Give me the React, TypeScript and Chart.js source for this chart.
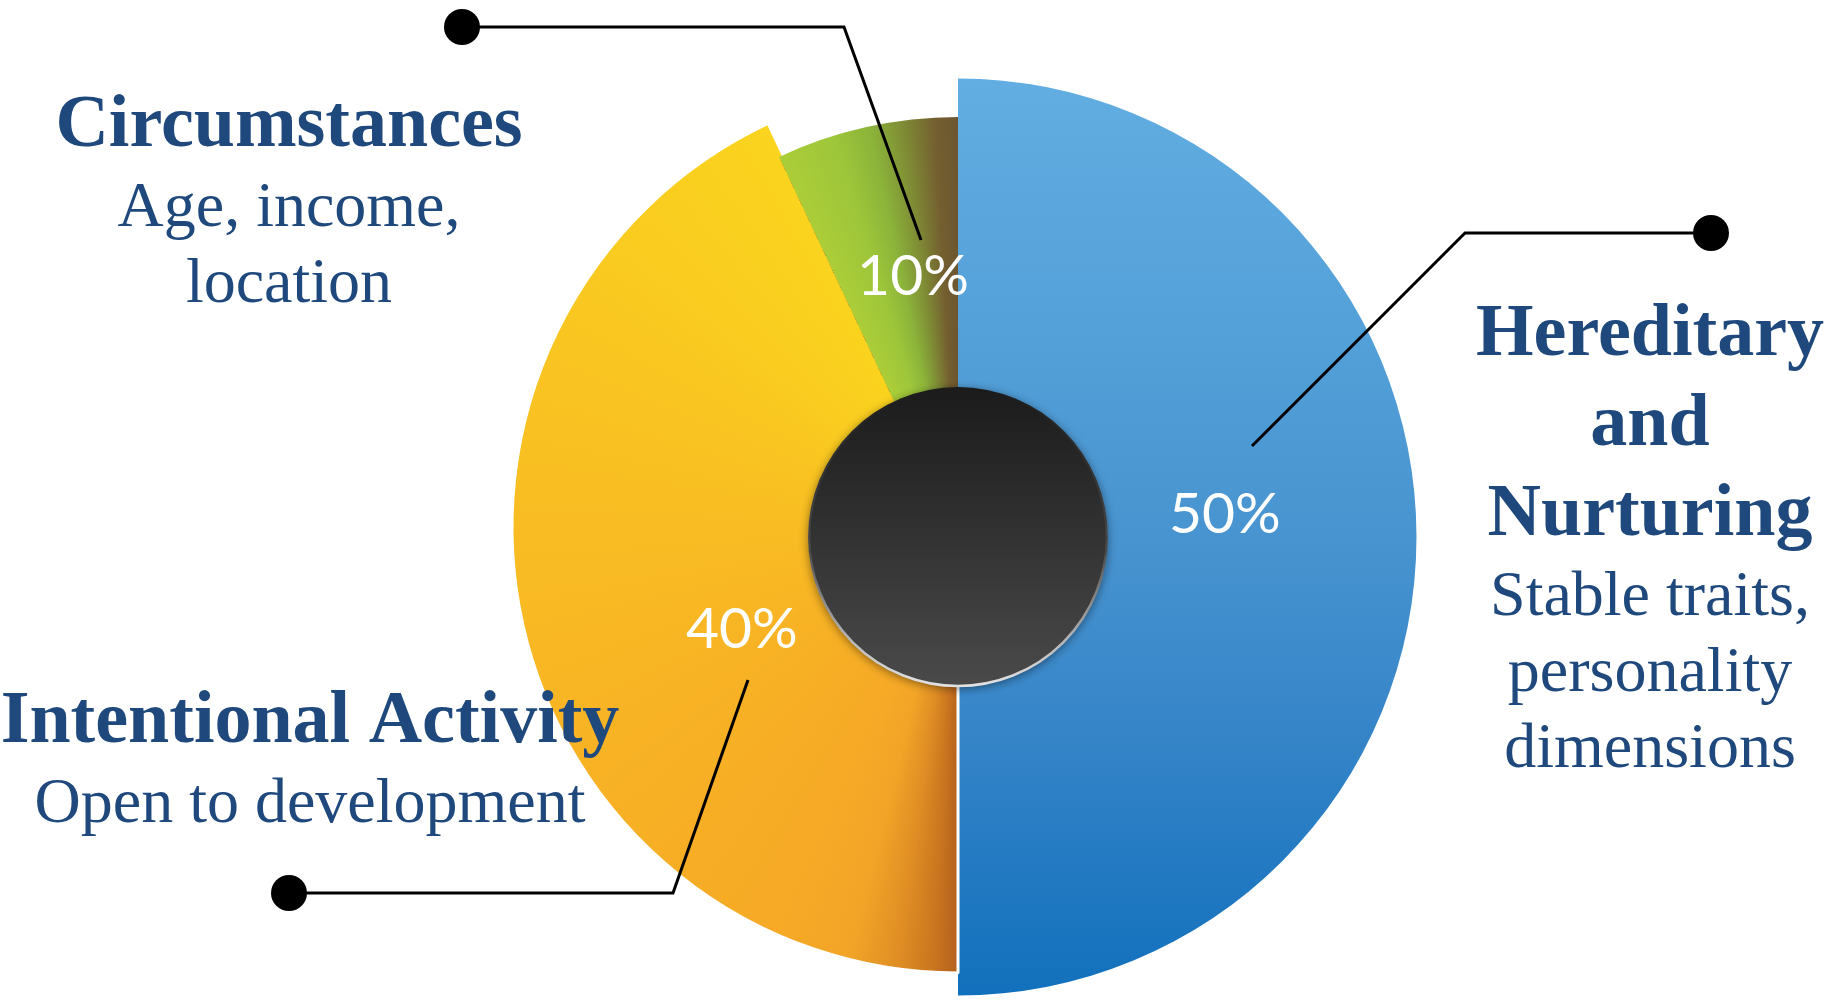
import React, { useEffect, useRef } from 'react';
import { Chart, registerables } from 'chart.js';

Chart.register(...registerables);

// ---------------- data ----------------
const categories = ['Hereditary and Nurturing', 'Intentional Activity', 'Circumstances'];
// slice sizes as drawn in the picture (angles 180° / ~155° / ~25°)
const sliceValues = [50, 43, 7];
// percentages printed on the slices
const percentLabels = ['50%', '40%', '10%'];
const titleLines = [['Hereditary', 'and', 'Nurturing'], ['Intentional Activity'], ['Circumstances']];
const subtitleLines = [['Stable traits,', 'personality', 'dimensions'], ['Open to development'], ['Age, income,', 'location']];

// ---------------- style ----------------
const TEXT_BLUE = '#1F497D';
const radiusFactors = [1, 446 / 458.5, 420 / 458.5];
const yShift = [0, -10, 0];
const labelFrac = [0.47, 0.436, 0.615];
const labelRadius = [268, 234, 267];
const blockAnchors = [
  { x: 1650, y: 355 },
  { x: 310, y: 742 },
  { x: 289, y: 146 },
];
const leaders = [
  [[1711, 233], [1465, 233], [1252, 446]],
  [[289, 893], [673, 893], [748, 680]],
  [[462, 27], [844, 27], [921, 240]],
];
const yellowStops: [number, string][] = [
  [0, '#B5611E'], [3, '#C8741F'], [8, '#E08E24'], [14, '#F1A427'], [22, '#F6A926'],
  [60, '#F8B324'], [100, '#F9C022'], [155, '#FAD41E'], [359, '#FAD41E'],
];
const greenStops: [number, string][] = [
  [0, '#ABCD38'], [8, '#9EC63A'], [13, '#8BB43A'], [18, '#7E8834'], [22, '#745F30'], [25.5, '#6B5530'], [359, '#6B5530'],
];
const baseColors = ['#4894D0', '#F8B324', '#8BB43A'];

function sliceFill(c: any) {
  if (c.type !== 'data') return baseColors[0];
  const i = c.dataIndex;
  const chart = c.chart;
  const area = chart.chartArea;
  if (!area) return baseColors[i];
  const g: CanvasRenderingContext2D = chart.ctx;
  const cx = (area.left + area.right) / 2;
  const cy = (area.top + area.bottom) / 2;
  const r = Math.min(area.width, area.height) / 2;
  if (i === 0) {
    const lg = g.createLinearGradient(0, cy - r, 0, cy + r);
    lg.addColorStop(0, '#62AEE2');
    lg.addColorStop(0.5, '#4894D0');
    lg.addColorStop(0.72, '#3584C8');
    lg.addColorStop(1, '#1170BC');
    return lg;
  }
  const total = sliceValues.reduce((a, b) => a + b, 0);
  let before = 0;
  for (let k = 0; k < i; k++) before += sliceValues[k];
  const start = -Math.PI / 2 + (2 * Math.PI * before) / total;
  const anyCtx = g as any;
  if (typeof anyCtx.createConicGradient !== 'function') return baseColors[i];
  const cg = anyCtx.createConicGradient(start, cx, cy + yShift[i]);
  const stops = i === 1 ? yellowStops : greenStops;
  stops.forEach(([deg, col]) => cg.addColorStop(Math.min(deg / 360, 1), col));
  return cg;
}

const decorPlugin = {
  id: 'decor',
  beforeDatasetsDraw(chart: any) {
    const meta = chart.getDatasetMeta(0);
    const ctrl: any = meta.controller;
    const area = chart.chartArea;
    const cy0 = (area.top + area.bottom) / 2;
    meta.data.forEach((arc: any, i: number) => {
      arc.outerRadius = ctrl.outerRadius * radiusFactors[i];
      arc.innerRadius = Math.max(ctrl.innerRadius - 30, 0);
      arc.y = cy0 + yShift[i];
    });
  },
  afterDatasetsDraw(chart: any) {
    const ctx: CanvasRenderingContext2D = chart.ctx;
    const meta = chart.getDatasetMeta(0);
    const ctrl: any = meta.controller;
    const base = meta.data[0];
    const cx = base.x;
    const area = chart.chartArea;
    const cy = (area.top + area.bottom) / 2;
    const rIn = ctrl.innerRadius;

    // center disc
    ctx.save();
    ctx.shadowColor = 'rgba(0,0,0,0.45)';
    ctx.shadowBlur = 10;
    ctx.shadowOffsetY = 2;
    const dg = ctx.createLinearGradient(0, cy - rIn, 0, cy + rIn);
    dg.addColorStop(0, '#1B1B1B');
    dg.addColorStop(1, '#4A4A4A');
    ctx.fillStyle = dg;
    ctx.beginPath();
    ctx.arc(cx, cy, rIn, 0, Math.PI * 2);
    ctx.fill();
    ctx.restore();
    ctx.save();
    const rg = ctx.createLinearGradient(0, cy - rIn, 0, cy + rIn);
    rg.addColorStop(0, 'rgba(255,255,255,0)');
    rg.addColorStop(0.55, 'rgba(255,255,255,0.1)');
    rg.addColorStop(1, 'rgba(235,235,235,0.95)');
    ctx.strokeStyle = rg;
    ctx.lineWidth = 2.5;
    ctx.beginPath();
    ctx.arc(cx, cy, rIn - 1, 0, Math.PI * 2);
    ctx.stroke();
    ctx.restore();

    // percent labels
    ctx.save();
    ctx.fillStyle = '#FFFFFF';
    ctx.font = '57px Lato, "Open Sans", sans-serif';
    ctx.textAlign = 'center';
    ctx.textBaseline = 'alphabetic';
    meta.data.forEach((arc: any, i: number) => {
      const a = arc.startAngle + labelFrac[i] * (arc.endAngle - arc.startAngle);
      const px = cx + Math.cos(a) * labelRadius[i];
      const py = cy + Math.sin(a) * labelRadius[i];
      ctx.fillText(percentLabels[i], px, py + 21);
    });
    ctx.restore();

    // leader lines
    ctx.save();
    ctx.strokeStyle = '#000000';
    ctx.fillStyle = '#000000';
    ctx.lineWidth = 3;
    ctx.lineJoin = 'miter';
    leaders.forEach((pts) => {
      ctx.beginPath();
      ctx.moveTo(pts[0][0], pts[0][1]);
      for (let k = 1; k < pts.length; k++) ctx.lineTo(pts[k][0], pts[k][1]);
      ctx.stroke();
      ctx.beginPath();
      ctx.arc(pts[0][0], pts[0][1], 18, 0, Math.PI * 2);
      ctx.fill();
    });
    ctx.restore();

    // category texts
    ctx.save();
    ctx.fillStyle = TEXT_BLUE;
    ctx.textAlign = 'center';
    ctx.textBaseline = 'alphabetic';
    categories.forEach((_, i) => {
      const { x, y } = blockAnchors[i];
      let yy = y;
      ctx.font = 'bold 74px "Liberation Serif", "Times New Roman", serif';
      titleLines[i].forEach((t, k) => {
        if (k > 0) yy += 90;
        ctx.fillText(t, x, yy);
      });
      yy += 80;
      ctx.font = '64px "Liberation Serif", "Times New Roman", serif';
      subtitleLines[i].forEach((t, k) => {
        if (k > 0) yy += 76;
        ctx.fillText(t, x, yy);
      });
    });
    ctx.restore();
  },
};

export default function App() {
  const ref = useRef<HTMLCanvasElement>(null);
  useEffect(() => {
    const canvas = ref.current;
    if (!canvas) return;
    const chart = new Chart(canvas, {
      type: 'doughnut',
      data: {
        labels: categories,
        datasets: [
          {
            data: sliceValues,
            backgroundColor: sliceFill as any,
            borderWidth: [0, 3, 0],
            borderColor: '#FFFFFF',
          },
        ],
      },
      options: {
        responsive: true,
        maintainAspectRatio: false,
        animation: false,
        events: [],
        cutout: '32.7%',
        layout: { padding: { left: 498, right: 425, top: 77, bottom: 4 } },
        plugins: { legend: { display: false }, tooltip: { enabled: false } },
      } as any,
      plugins: [decorPlugin as any],
    });
    return () => chart.destroy();
  }, []);
  return (
    <div style={{ position: 'fixed', left: 0, top: 0, width: '100vw', height: '100vh', background: '#FFFFFF' }}>
      <canvas ref={ref} />
    </div>
  );
}
